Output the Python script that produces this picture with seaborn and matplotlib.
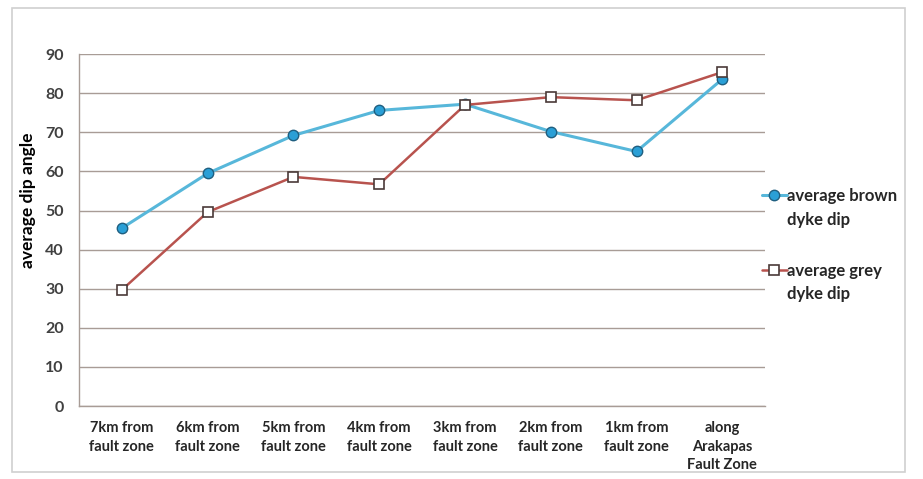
import matplotlib
matplotlib.use("Agg")
import matplotlib.pyplot as plt
import seaborn as sns
import pandas as pd
from matplotlib.patches import Rectangle
from matplotlib.legend_handler import HandlerLine2D

categories = [
    "7km from\nfault zone", "6km from\nfault zone", "5km from\nfault zone",
    "4km from\nfault zone", "3km from\nfault zone", "2km from\nfault zone",
    "1km from\nfault zone", "along\nArakapas\nFault Zone",
]
brown_dip = [45.5, 59.5, 69.2, 75.6, 77.2, 70.2, 65.1, 83.6]
grey_dip = [29.7, 49.6, 58.6, 56.7, 77.0, 79.0, 78.2, 85.4]
y_ticks = [0, 10, 20, 30, 40, 50, 60, 70, 80, 90]


class FirstLineHandler(HandlerLine2D):
    """Legend key aligned with the first line of a two-line label."""

    def __init__(self, dy, **kw):
        super().__init__(**kw)
        self.dy = dy

    def create_artists(self, legend, orig_handle, xdescent, ydescent,
                       width, height, fontsize, trans):
        arts = super().create_artists(legend, orig_handle, xdescent, ydescent,
                                      width, height, fontsize, trans)
        for a in arts:
            a.set_ydata([y + self.dy for y in a.get_ydata()])
        return arts


sns.set_theme(style="white")
plt.rcParams["font.family"] = ["Lato", "DejaVu Sans"]

fig = plt.figure(figsize=(9.23, 4.79), dpi=100)
ax = fig.add_axes([0.0856, 0.1524, 0.7434, 0.7346])

# outer chart frame
fig.patches.append(Rectangle((12 / 923, 1 - 472 / 479), 893 / 923, 464 / 479,
                             transform=fig.transFigure, fill=False,
                             edgecolor="#d0d0d0", linewidth=1.2, zorder=0))

df = pd.DataFrame({"loc": categories, "brown": brown_dip, "grey": grey_dip})

sns.lineplot(data=df, x="loc", y="brown", ax=ax, color="#57b7da", linewidth=2.2,
             marker="o", markersize=7.5, markerfacecolor="#2a9fd6",
             markeredgecolor="#1f5f80", markeredgewidth=1.0, sort=False,
             label="average brown\ndyke dip")
sns.lineplot(data=df, x="loc", y="grey", ax=ax, color="#b8534e", linewidth=1.8,
             marker="s", markersize=7.5, markerfacecolor="white",
             markeredgecolor="#4a3a38", markeredgewidth=1.2, sort=False,
             label="average grey\ndyke dip")

ax.set_xlim(-0.5, 7.5)
ax.set_ylim(0, 90)
ax.set_yticks(y_ticks)
ax.set_xlabel("")
ax.set_ylabel("average dip angle", fontsize=12.5, fontweight="bold", color="black")
ax.yaxis.set_label_coords(-0.062, 0.585)

ax.grid(axis="y", color="#a89c96", linewidth=1.0)
ax.grid(axis="x", visible=False)
ax.set_axisbelow(True)
for side in ["top", "right"]:
    ax.spines[side].set_visible(False)
for side in ["left", "bottom"]:
    ax.spines[side].set_color("#a89c96")
    ax.spines[side].set_linewidth(1.0)

ax.tick_params(axis="y", length=4, color="#a89c96", labelsize=11.5, labelcolor="#404040", pad=7)
ax.tick_params(axis="x", length=0, labelsize=10.5, labelcolor="#262626", pad=11)
for lbl in ax.get_yticklabels() + ax.get_xticklabels():
    lbl.set_fontweight("bold")
for lbl in ax.get_xticklabels():
    lbl.set_linespacing(1.4)

fs = 12
handles, labels = ax.get_legend_handles_labels()
leg = ax.legend(handles, labels, loc="center left", bbox_to_anchor=(0.985, 0.457),
                frameon=False, fontsize=fs, handlelength=1.5, handletextpad=0.05,
                labelspacing=2.1, borderaxespad=0,
                handler_map={h: FirstLineHandler(0.8 * fs) for h in handles})
for t in leg.get_texts():
    t.set_fontweight("bold")
    t.set_color("#262626")
    t.set_linespacing(1.6)

fig.savefig("out.png", dpi=100, facecolor="white")
